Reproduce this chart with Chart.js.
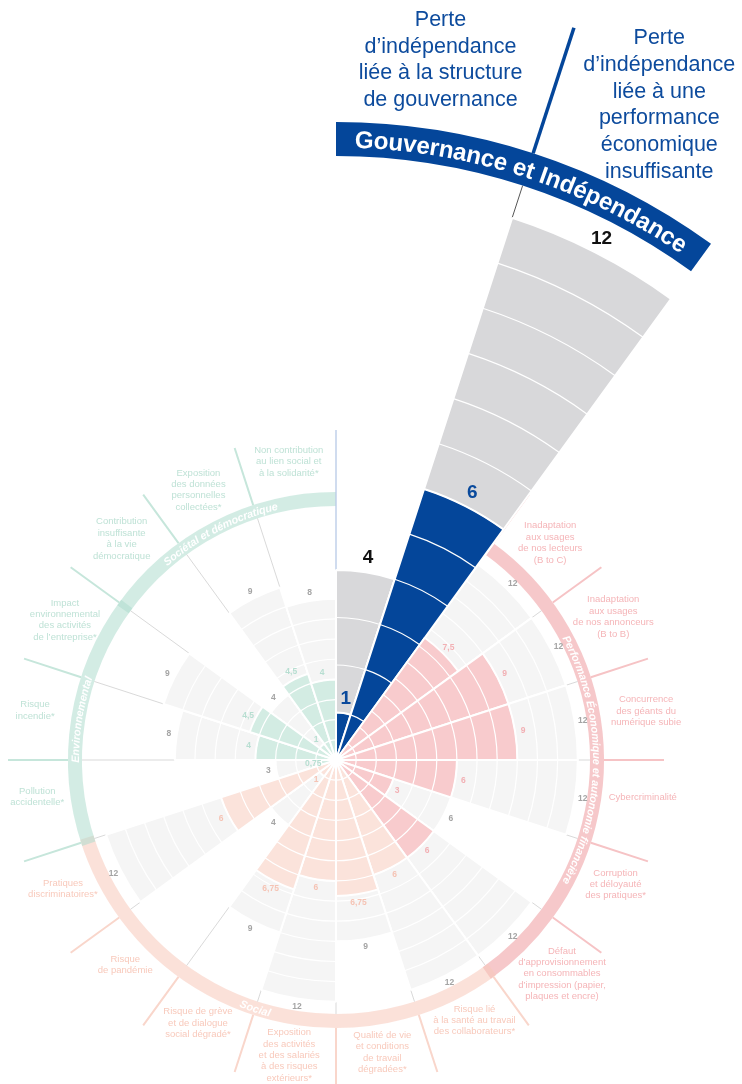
<!DOCTYPE html>
<html lang="fr">
<head>
<meta charset="utf-8">
<title>Cartographie des risques</title>
<script src="https://cdn.jsdelivr.net/npm/chart.js@4.4.1/dist/chart.umd.min.js"></script>
<style>
html,body{margin:0;padding:0;background:#fff;}
#wrap{position:relative;width:742px;height:1084px;}
canvas{display:block;}
</style>
</head>
<body>
<div id="wrap"><canvas id="chart" width="742" height="1084"></canvas></div>
<script>
// ---------- DATA ----------
const categories = [
  "Perte d’indépendance liée à la structure de gouvernance",
  "Perte d’indépendance liée à une performance économique insuffisante",
  "Inadaptation aux usages de nos lecteurs (B to C)",
  "Inadaptation aux usages de nos annonceurs (B to B)",
  "Concurrence des géants du numérique subie",
  "Cybercriminalité",
  "Corruption et déloyauté des pratiques*",
  "Défaut d’approvisionnement en consommables d’impression (papier, plaques et encre)",
  "Risque lié à la santé au travail des collaborateurs*",
  "Qualité de vie et conditions de travail dégradées*",
  "Exposition des activités et des salariés à des risques extérieurs*",
  "Risque de grève et de dialogue social dégradé*",
  "Risque de pandémie",
  "Pratiques discriminatoires*",
  "Pollution accidentelle*",
  "Risque incendie*",
  "Impact environnemental des activités de l’entreprise*",
  "Contribution insuffisante à la vie démocratique",
  "Exposition des données personnelles collectées*",
  "Non contribution au lien social et à la solidarité*"
];
const categoryLines = [
  ["Perte", "d’indépendance", "liée à la structure", "de gouvernance"],
  ["Perte", "d’indépendance", "liée à une", "performance", "économique", "insuffisante"],
  ["Inadaptation", "aux usages", "de nos lecteurs", "(B to C)"],
  ["Inadaptation", "aux usages", "de nos annonceurs", "(B to B)"],
  ["Concurrence", "des géants du", "numérique subie"],
  ["Cybercriminalité"],
  ["Corruption", "et déloyauté", "des pratiques*"],
  ["Défaut", "d’approvisionnement", "en consommables", "d’impression (papier,", "plaques et encre)"],
  ["Risque lié", "à la santé au travail", "des collaborateurs*"],
  ["Qualité de vie", "et conditions", "de travail", "dégradées*"],
  ["Exposition", "des activités", "et des salariés", "à des risques", "extérieurs*"],
  ["Risque de grève", "et de dialogue", "social dégradé*"],
  ["Risque", "de pandémie"],
  ["Pratiques", "discriminatoires*"],
  ["Pollution", "accidentelle*"],
  ["Risque", "incendie*"],
  ["Impact", "environnemental", "des activités", "de l’entreprise*"],
  ["Contribution", "insuffisante", "à la vie", "démocratique"],
  ["Exposition", "des données", "personnelles", "collectées*"],
  ["Non contribution", "au lien social et", "à la solidarité*"]
];
const categoryGroups = [
  "gouv", "gouv",
  "perf", "perf", "perf", "perf", "perf", "perf",
  "social", "social", "social", "social", "social", "social",
  "env", "env", "env",
  "societal", "societal", "societal"
];
const riskValues = [1, 6, 7.5, 9, 9, 6, 3, 6, 6, 6.75, 6, 6.75, 1, 6, 0.75, 4, 4.5, 1, 4.5, 4];
const maxValues  = [4, 12, 12, 12, 12, 12, 6, 12, 12, 9, 12, 9, 4, 12, 3, 8, 9, 4, 9, 8];
const groupTitles = {
  gouv: "Gouvernance et Indépendance",
  perf: "Performance Économique et autonomie financière",
  social: "Social",
  env: "Environnemental",
  societal: "Sociétal et démocratique"
};

// ---------- STYLE / LAYOUT ----------
const FONT = '"Liberation Sans", Arial, Helvetica, sans-serif';
const STYLE = {
  gouv:     { value: "#04469a", max: "#d8d8da", text: "#0d4b9d", valueText: "#0a4a9c", maxText: "#111111" },
  perf:     { value: "#f8cbcd", max: "#f5f5f5", text: "#f5b5b8", valueText: "#f2b0b4", maxText: "#a4a4a4", ring: "rgba(240,160,163,0.58)", line: "#f6c3c5" },
  social:   { value: "#fbe3db", max: "#f5f5f5", text: "#f8c9bb", valueText: "#f5c3b4", maxText: "#a4a4a4", ring: "rgba(248,200,186,0.55)", line: "#f9d6cb" },
  env:      { value: "#d3ece3", max: "#f5f5f5", text: "#bfe2d6", valueText: "#b7ded1", maxText: "#a4a4a4", ring: "rgba(175,220,206,0.55)", line: "#c6e6db" },
  societal: { value: "#d3ece3", max: "#f5f5f5", text: "#bfe2d6", valueText: "#b7ded1", maxText: "#a4a4a4", ring: "rgba(175,220,206,0.55)", line: "#c6e6db" }
};
const LAYOUT = {
  padding: { left: 12, right: 82, top: 436, bottom: 0 },
  pxPerUnit: 20.15,
  pxPerUnitGov: 47.5,
  ringInner: 254, ringOuter: 268, ringOverlapDeg: 0.7,
  lineEnd: 328,
  govBandInner: 604, govBandOuter: 638, govLineEnd: 770, govLightLineEnd: 330,
  govTitleSpanDeg: 32.5,
  labelR:     [668, 671, 305, 312, 314, 309, 306, 311, 295, 296, 299, 297, 294, 302, 301, 305, 305, 308, 303, 302],
  labelNudge: [0, 1.8, -0.4, -0.3, 0, -2.1, -3, -1.6, -1, 0, 0, 0.7, 0.8, 1.7, 2, 0.4, 0.3, 0.9, 0, 0]
};
const DRAW_R = 324; // half of the square chart area (from padding above)

const isGov = categoryGroups.map(g => g === "gouv");
const fmt = v => String(v).replace(".", ",");

// ---------- HELPERS ----------
function sectorAngles(chart, i) {
  const arc = chart.getDatasetMeta(1).data[i];
  return { s: arc.startAngle, e: arc.endAngle, m: (arc.startAngle + arc.endAngle) / 2 };
}
function scaleFor(chart, i) { return isGov[i] ? chart.scales.rGov : chart.scales.r; }
function pt(sc, a, r) { return { x: sc.xCenter + r * Math.cos(a), y: sc.yCenter + r * Math.sin(a) }; }
function seg(ctx, sc, a, r0, r1, color, w) {
  const p0 = pt(sc, a, r0), p1 = pt(sc, a, r1);
  ctx.save(); ctx.strokeStyle = color; ctx.lineWidth = w; ctx.lineCap = "butt";
  ctx.beginPath(); ctx.moveTo(p0.x, p0.y); ctx.lineTo(p1.x, p1.y); ctx.stroke(); ctx.restore();
}
function arcText(ctx, sc, text, r, midA, font, color, inward) {
  ctx.save();
  ctx.font = font; ctx.fillStyle = color; ctx.textAlign = "center"; ctx.textBaseline = "alphabetic";
  const chars = [...text];
  const widths = chars.map(ch => ctx.measureText(ch).width);
  const total = widths.reduce((a, b) => a + b, 0);
  const capH = ctx.measureText("H").actualBoundingBoxAscent || 7;
  const dir = inward ? -1 : 1;
  const startA = midA - dir * total / 2 / r;
  let acc = 0;
  chars.forEach((ch, j) => {
    const a = startA + dir * (acc + widths[j] / 2) / r;
    acc += widths[j];
    const p = pt(sc, a, r);
    ctx.save();
    ctx.translate(p.x, p.y);
    ctx.rotate(inward ? a - Math.PI / 2 : a + Math.PI / 2);
    ctx.fillText(ch, 0, capH / 2);
    ctx.restore();
  });
  ctx.restore();
}

// ---------- PLUGINS ----------
const decorBelow = {
  id: "decorBelow",
  beforeDatasetsDraw(chart) {
    const ctx = chart.ctx, sc = chart.scales.r, N = categories.length;
    // coloured outer rings per group
    const groups = ["perf", "social", "env", "societal"];
    groups.forEach(g => {
      const idx = categoryGroups.map((c, i) => c === g ? i : -1).filter(i => i >= 0);
      const first = idx[0], last = idx[idx.length - 1];
      const prevG = categoryGroups[(first - 1 + N) % N], nextG = categoryGroups[(last + 1) % N];
      const ov = LAYOUT.ringOverlapDeg * Math.PI / 180;
      const s = sectorAngles(chart, first).s - (prevG !== "gouv" ? ov : 0);
      const e = sectorAngles(chart, last).e + (nextG !== "gouv" ? ov : 0);
      ctx.save();
      ctx.strokeStyle = STYLE[g].ring;
      ctx.lineWidth = LAYOUT.ringOuter - LAYOUT.ringInner;
      ctx.beginPath();
      ctx.arc(sc.xCenter, sc.yCenter, (LAYOUT.ringInner + LAYOUT.ringOuter) / 2, s, e);
      ctx.stroke();
      ctx.restore();
    });
    // boundary lines
    for (let b = 0; b < N; b++) {
      const L = (b - 1 + N) % N, R = b;
      const a = sectorAngles(chart, b).s;
      const rL = scaleFor(chart, L).getDistanceFromCenterForValue(maxValues[L]);
      const rR = scaleFor(chart, R).getDistanceFromCenterForValue(maxValues[R]);
      const gL = categoryGroups[L], gR = categoryGroups[R];
      if (gR === "gouv" && gL !== "gouv") {
        seg(ctx, sc, a, rL, LAYOUT.govLightLineEnd, "#bccde8", 1.4);
      } else if (gR === "gouv" && gL === "gouv") {
        seg(ctx, sc, a, Math.max(rL, rR), LAYOUT.govBandInner, "#555555", 1);
        seg(ctx, sc, a, LAYOUT.govBandOuter, LAYOUT.govLineEnd, STYLE.gouv.value, 3.5);
      } else {
        const inner = Math.max(rL, rR);
        if (inner < LAYOUT.ringInner) seg(ctx, sc, a, inner, LAYOUT.ringInner, "#cfcfcf", 0.8);
        seg(ctx, sc, a, LAYOUT.ringOuter, LAYOUT.lineEnd, STYLE[gR].line, 2);
      }
    }
  }
};

const decorAbove = {
  id: "decorAbove",
  afterDatasetsDraw(chart) {
    const ctx = chart.ctx, N = categories.length;
    // unit subdivisions inside every bar
    for (let i = 0; i < N; i++) {
      const sc = scaleFor(chart, i);
      const { s, e } = sectorAngles(chart, i);
      ctx.save();
      ctx.strokeStyle = "#ffffff";
      ctx.lineWidth = 1.2;
      for (let k = 1; k < maxValues[i]; k++) {
        ctx.beginPath();
        ctx.arc(sc.xCenter, sc.yCenter, sc.getDistanceFromCenterForValue(k), s, e);
        ctx.stroke();
      }
      ctx.restore();
    }
    // value labels
    for (let i = 0; i < N; i++) {
      const sc = scaleFor(chart, i);
      const { m } = sectorAngles(chart, i);
      const st = STYLE[categoryGroups[i]];
      const off = isGov[i] ? 15 : 8;
      const font = isGov[i] ? "bold 19px " + FONT : "bold 8.5px " + FONT;
      ctx.save();
      ctx.font = font; ctx.textAlign = "center"; ctx.textBaseline = "middle";
      let p = pt(sc, m, sc.getDistanceFromCenterForValue(maxValues[i]) + off);
      ctx.fillStyle = st.maxText;
      ctx.fillText(fmt(maxValues[i]), p.x, p.y);
      p = pt(sc, m, sc.getDistanceFromCenterForValue(riskValues[i]) + off);
      ctx.fillStyle = st.valueText;
      ctx.fillText(fmt(riskValues[i]), p.x, p.y);
      ctx.restore();
    }
  },
  afterDraw(chart) {
    const ctx = chart.ctx, sc = chart.scales.r, N = categories.length;
    const deg = Math.PI / 180;
    // ring titles
    ["perf", "social", "env", "societal"].forEach(g => {
      const idx = categoryGroups.map((c, i) => c === g ? i : -1).filter(i => i >= 0);
      const s = sectorAngles(chart, idx[0]).s, e = sectorAngles(chart, idx[idx.length - 1]).e;
      const mid = (s + e) / 2;
      const fromTop = ((mid / deg + 90) % 360 + 360) % 360;
      const inward = fromTop > 100 && fromTop < 260;
      arcText(ctx, sc, groupTitles[g], (LAYOUT.ringInner + LAYOUT.ringOuter) / 2, mid,
        "italic bold 10.8px " + FONT, "#ffffff", inward);
    });
    // governance banner
    const gi = categoryGroups.map((c, i) => c === "gouv" ? i : -1).filter(i => i >= 0);
    const gs = sectorAngles(chart, gi[0]).s, ge = sectorAngles(chart, gi[gi.length - 1]).e;
    ctx.save();
    ctx.fillStyle = STYLE.gouv.value;
    ctx.beginPath();
    ctx.arc(sc.xCenter, sc.yCenter, LAYOUT.govBandOuter, gs, ge);
    ctx.arc(sc.xCenter, sc.yCenter, LAYOUT.govBandInner, ge, gs, true);
    ctx.closePath();
    ctx.fill();
    ctx.restore();
    const rMid = (LAYOUT.govBandInner + LAYOUT.govBandOuter) / 2;
    ctx.save();
    ctx.font = "bold 24px " + FONT;
    let w = 0; [...groupTitles.gouv].forEach(ch => w += ctx.measureText(ch).width);
    ctx.restore();
    const target = LAYOUT.govTitleSpanDeg * deg * rMid;
    const size = 24 * target / w;
    arcText(ctx, sc, groupTitles.gouv, rMid, (gs + ge) / 2, "bold " + size.toFixed(2) + "px " + FONT, "#ffffff", false);

    // category labels
    for (let i = 0; i < N; i++) {
      const { m } = sectorAngles(chart, i);
      const a = m + LAYOUT.labelNudge[i] * deg;
      const p = pt(sc, a, LAYOUT.labelR[i]);
      const lines = categoryLines[i];
      ctx.save();
      ctx.textAlign = "center"; ctx.textBaseline = "middle";
      if (isGov[i]) {
        ctx.font = "21.5px " + FONT; ctx.fillStyle = STYLE.gouv.text;
        const lh = 26.8;
        lines.forEach((ln, j) => ctx.fillText(ln, p.x, p.y - (lines.length - 1 - j) * lh));
      } else {
        ctx.font = "9.5px " + FONT; ctx.fillStyle = STYLE[categoryGroups[i]].text;
        const lh = 11.4;
        const y0 = p.y - (lines.length - 1) * lh / 2;
        lines.forEach((ln, j) => ctx.fillText(ln, p.x, y0 + j * lh));
      }
      ctx.restore();
    }
  }
};

// ---------- CHART ----------
const valueColors = categoryGroups.map(g => STYLE[g].value);
const maxColors = categoryGroups.map(g => STYLE[g].max);
const hiddenScale = {
  type: "radialLinear", min: 0, startAngle: 0, beginAtZero: true,
  ticks: { display: false }, grid: { display: false },
  angleLines: { display: false }, pointLabels: { display: false }
};
const borderW = c => (c.raw > 0 ? 2 : 0);

new Chart(document.getElementById("chart"), {
  type: "polarArea",
  data: {
    labels: categories,
    datasets: [
      { label: "Niveau de risque", rAxisID: "r", order: 0, clip: false,
        data: riskValues.map((v, i) => isGov[i] ? 0 : v),
        backgroundColor: valueColors, borderColor: "#ffffff", borderWidth: borderW },
      { label: "Niveau maximal", rAxisID: "r", order: 1, clip: false,
        data: maxValues.map((v, i) => isGov[i] ? 0 : v),
        backgroundColor: maxColors, borderColor: "#ffffff", borderWidth: borderW },
      { label: "Gouvernance – niveau de risque", rAxisID: "rGov", order: 0, clip: false,
        data: riskValues.map((v, i) => isGov[i] ? v : 0),
        backgroundColor: valueColors, borderColor: "#ffffff", borderWidth: borderW },
      { label: "Gouvernance – niveau maximal", rAxisID: "rGov", order: 1, clip: false,
        data: maxValues.map((v, i) => isGov[i] ? v : 0),
        backgroundColor: maxColors, borderColor: "#ffffff", borderWidth: borderW }
    ]
  },
  options: {
    responsive: false,
    devicePixelRatio: 1,
    animation: false,
    layout: { padding: LAYOUT.padding },
    scales: {
      r: Object.assign({}, hiddenScale, { max: DRAW_R / LAYOUT.pxPerUnit }),
      rGov: Object.assign({}, hiddenScale, { max: DRAW_R / LAYOUT.pxPerUnitGov })
    },
    plugins: {
      legend: { display: false },
      tooltip: { enabled: true }
    }
  },
  plugins: [decorBelow, decorAbove]
});
</script>
</body>
</html>
